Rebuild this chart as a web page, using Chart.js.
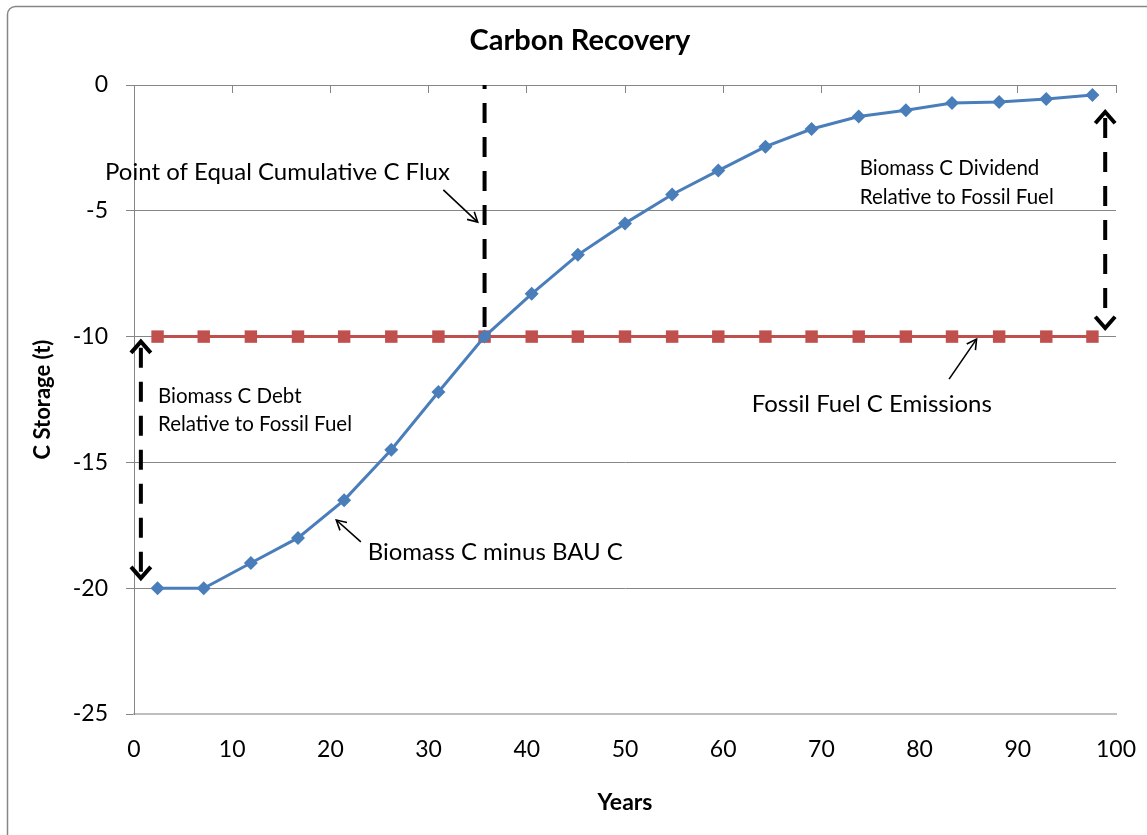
<!DOCTYPE html>
<html>
<head>
<meta charset="utf-8">
<script src="https://cdn.jsdelivr.net/npm/chart.js@4"></script>
<style>
  html, body { margin: 0; padding: 0; background: #fff; }
  canvas { display: block; }
</style>
</head>
<body>
<canvas id="carbonChart" width="1147" height="835"></canvas>
<script>
// Years at which both series are sampled
const years = [2.4, 7.1, 11.9, 16.7, 21.4, 26.2, 31.0, 35.7, 40.5, 45.2, 50.0,
               54.8, 59.5, 64.3, 69.0, 73.8, 78.6, 83.3, 88.1, 92.9, 97.6];
// Biomass C minus business-as-usual C (t)
const biomassMinusBau = [-20.0, -20.0, -19.0, -18.0, -16.5, -14.5, -12.2, -10.0, -8.3, -6.75, -5.5,
                         -4.35, -3.4, -2.45, -1.75, -1.25, -1.0, -0.72, -0.68, -0.56, -0.4];
// Fossil fuel C emissions (t)
const fossilFuel = [-10, -10, -10, -10, -10, -10, -10, -10, -10, -10, -10,
                    -10, -10, -10, -10, -10, -10, -10, -10, -10, -10];
const yTicks = [0, -5, -10, -15, -20, -25];
const xTicks = [0, 10, 20, 30, 40, 50, 60, 70, 80, 90, 100];

const FONT = 'Lato, "Open Sans", sans-serif';
const GRID = '#868686';

// index of the point where the two curves meet
const crossIdx = 7;

function toPoints(xs, ys) {
    return xs.map((v, i) => ({ x: v, y: ys[i] }));
}

// open arrow head: two short strokes meeting at the tip
function arrowHead(ctx, tx, ty, angle, len, spread) {
    ctx.beginPath();
    ctx.moveTo(tx - len * Math.cos(angle - spread), ty - len * Math.sin(angle - spread));
    ctx.lineTo(tx, ty);
    ctx.lineTo(tx - len * Math.cos(angle + spread), ty - len * Math.sin(angle + spread));
    ctx.stroke();
}

function dashedDoubleArrow(ctx, x, y1, y2) {
    ctx.save();
    ctx.strokeStyle = '#000';
    ctx.lineWidth = 4;
    ctx.setLineDash([20, 14]);
    ctx.beginPath();
    ctx.moveTo(x, y1 + 6);
    ctx.lineTo(x, y2 - 6);
    ctx.stroke();
    ctx.setLineDash([]);
    ctx.lineJoin = 'miter';
    arrowHead(ctx, x, y1, -Math.PI / 2, 15, 0.72);
    arrowHead(ctx, x, y2, Math.PI / 2, 15, 0.72);
    ctx.restore();
}

function thinArrow(ctx, x1, y1, x2, y2) {
    ctx.save();
    ctx.strokeStyle = '#000';
    ctx.lineWidth = 1.6;
    ctx.beginPath();
    ctx.moveTo(x1, y1);
    ctx.lineTo(x2, y2);
    ctx.stroke();
    arrowHead(ctx, x2, y2, Math.atan2(y2 - y1, x2 - x1), 11, 0.5);
    ctx.restore();
}

const frame = {
    id: 'frame',
    beforeDraw(chart) {
        const ctx = chart.ctx;
        ctx.save();
        ctx.fillStyle = '#fff';
        ctx.fillRect(0, 0, chart.width, chart.height);
        ctx.strokeStyle = GRID;
        ctx.lineWidth = 1.5;
        ctx.beginPath();
        ctx.roundRect(7.5, 6.5, chart.width + 40, chart.height + 40, 8);
        ctx.stroke();
        ctx.restore();
    }
};

const annotations = {
    id: 'annotations',
    beforeDatasetsDraw(chart) {
        const { ctx, scales: { x, y } } = chart;
        // point of equal cumulative flux
        ctx.save();
        ctx.strokeStyle = '#000';
        ctx.lineWidth = 4;
        ctx.setLineDash([20, 14]);
        ctx.lineDashOffset = 16;
        ctx.beginPath();
        ctx.moveTo(x.getPixelForValue(years[crossIdx]), y.getPixelForValue(0));
        ctx.lineTo(x.getPixelForValue(years[crossIdx]), y.getPixelForValue(fossilFuel[crossIdx]));
        ctx.stroke();
        ctx.restore();

        dashedDoubleArrow(ctx, x.getPixelForValue(0.7), y.getPixelForValue(-10.2), y.getPixelForValue(-19.6));
        dashedDoubleArrow(ctx, x.getPixelForValue(98.9), y.getPixelForValue(-1.07), y.getPixelForValue(-9.66));
    },
    afterDatasetsDraw(chart) {
        const { ctx, scales: { x, y } } = chart;
        const px = v => x.getPixelForValue(v);
        const py = v => y.getPixelForValue(v);

        thinArrow(ctx, px(31.5), py(-4.17), px(35.0), py(-5.45));
        thinArrow(ctx, px(23.1), py(-18.16), px(20.6), py(-17.29));
        thinArrow(ctx, px(83.0), py(-11.69), px(85.8), py(-10.1));

        ctx.save();
        ctx.fillStyle = '#000';
        ctx.textBaseline = 'middle';
        ctx.textAlign = 'left';
        ctx.font = '24px ' + FONT;
        ctx.fillText('Point of Equal Cumulative C Flux', px(-2.95), py(-3.46));
        ctx.fillText('Biomass C minus BAU C', px(23.8), py(-18.56));
        ctx.fillText('Fossil Fuel C Emissions', px(62.9), py(-12.68));
        ctx.font = '20.5px ' + FONT;
        ctx.fillText('Biomass C Dividend', px(73.9), py(-3.3));
        ctx.fillText('Relative to Fossil Fuel', px(73.9), py(-4.45));
        ctx.fillText('Biomass C Debt', px(2.44), py(-12.36));
        ctx.fillText('Relative to Fossil Fuel', px(2.44), py(-13.5));
        ctx.restore();
    }
};

const ctx = document.getElementById('carbonChart').getContext('2d');
new Chart(ctx, {
    type: 'line',
    data: {
        datasets: [{
            label: 'Biomass C minus BAU C',
            data: toPoints(years, biomassMinusBau),
            borderColor: '#4A7EBB',
            backgroundColor: '#4A7EBB',
            borderWidth: 3,
            pointStyle: 'rectRot',
            pointRadius: 7,
            pointBorderWidth: 0,
            tension: 0
        }, {
            label: 'Fossil Fuel C Emissions',
            data: toPoints(years, fossilFuel),
            borderColor: '#C0504D',
            backgroundColor: '#C0504D',
            borderWidth: 3,
            pointStyle: 'rect',
            pointRadius: 8.8,
            pointBorderWidth: 0,
            tension: 0
        }]
    },
    options: {
        responsive: false,
        animation: false,
        layout: { padding: { left: 44, right: 31, top: 0, bottom: 0 } },
        plugins: {
            legend: { display: false },
            tooltip: { enabled: false },
            title: {
                display: true,
                text: 'Carbon Recovery',
                color: '#000',
                font: { family: FONT, size: 29, weight: 'bold' },
                padding: { top: 23, bottom: 27.2 }
            }
        },
        scales: {
            x: {
                type: 'linear',
                position: 'bottom',
                min: 0,
                max: 100,
                afterBuildTicks: scale => { scale.ticks = xTicks.map(v => ({ value: v })); },
                afterFit: scale => {
                    scale.height = 121;
                    scale.paddingLeft = 0;
                    scale.paddingRight = 0;
                },
                grid: { display: false, drawTicks: false },
                border: { display: true, color: '#BFBFBF', width: 2 },
                ticks: {
                    color: '#000',
                    padding: 22,
                    maxRotation: 0,
                    font: { family: FONT, size: 23 }
                },
                title: {
                    display: true,
                    text: 'Years',
                    color: '#000',
                    font: { family: FONT, size: 23, weight: 'bold' },
                    padding: { top: 0, bottom: 19 }
                }
            },
            xTop: {
                type: 'linear',
                position: 'top',
                min: 0,
                max: 100,
                afterBuildTicks: scale => { scale.ticks = xTicks.map(v => ({ value: v })); },
                afterFit: scale => {
                    scale.height = 0;
                    scale.paddingLeft = 0;
                    scale.paddingRight = 0;
                },
                grid: { drawOnChartArea: false, drawTicks: true, tickLength: -8, color: GRID },
                border: { display: true, color: GRID, width: 1 },
                ticks: { display: false }
            },
            y: {
                type: 'linear',
                min: -25,
                max: 0,
                afterBuildTicks: scale => { scale.ticks = yTicks.map(v => ({ value: v })); },
                afterFit: scale => {
                    scale.width = 90;
                    scale.paddingTop = 0;
                    scale.paddingBottom = 0;
                },
                grid: { color: GRID, lineWidth: 1, tickLength: 8 },
                border: { display: true, color: GRID, width: 1 },
                ticks: {
                    color: '#000',
                    padding: 18,
                    font: { family: FONT, size: 23 }
                },
                title: {
                    display: true,
                    text: 'C Storage (t)',
                    color: '#000',
                    font: { family: FONT, size: 22, weight: 'bold' },
                    padding: { top: -14, bottom: 0 }
                }
            }
        }
    },
    plugins: [frame, annotations]
});
</script>
</body>
</html>
